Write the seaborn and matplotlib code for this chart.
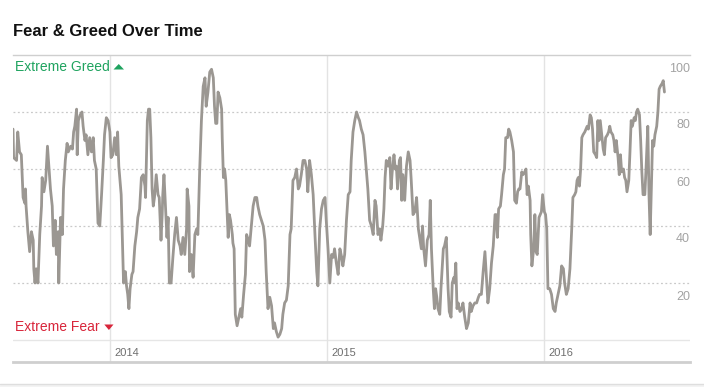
import numpy as np
import pandas as pd
import matplotlib
matplotlib.use("Agg")
import matplotlib.pyplot as plt
import matplotlib.transforms as mtransforms
from matplotlib.patches import Polygon, Rectangle
import seaborn as sns

# ---------------- data ----------------
START = "2013-07-22"
day_offset = [
    0, 1, 6, 8, 11, 14, 17, 20, 21, 22,
    25, 28, 31, 34, 35, 37, 39, 42, 45, 48,
    49, 52, 55, 58, 61, 63, 66, 68, 71, 73,
    76, 77, 80, 83, 85, 88, 91, 93, 97, 100,
    102, 104, 107, 108, 110, 113, 116, 118, 121, 123,
    126, 129, 132, 135, 137, 140, 143, 146, 149, 152,
    154, 157, 160, 163, 165, 168, 171, 174, 176, 178,
    180, 182, 184, 186, 189, 191, 193, 195, 197, 200,
    202, 205, 208, 210, 213, 216, 219, 222, 223, 226,
    228,
    230, 232, 234, 236, 238, 241, 244, 246, 249, 251,
    252, 254, 256, 259, 261, 263, 266, 269, 272, 275,
    278, 281, 283, 286, 289, 292, 293, 296, 297, 300,
    303, 306, 309, 311, 314, 317, 320, 323, 325, 328,
    331, 334, 337, 339, 341, 343, 345, 348, 351, 352,
    354, 356, 358, 360, 362, 364, 366, 369, 370, 372,
    374, 377, 380, 383, 385, 388, 391, 393, 396, 398,
    401, 404, 407, 410, 412, 415, 418, 421, 424, 426,
    429, 432, 435, 438, 440, 443, 446, 449, 452, 454,
    457, 460, 463, 466, 468, 471, 474, 477, 480, 482,
    485, 488, 491, 494, 496, 499, 502, 505, 508, 511,
    513, 516, 519, 522, 525, 527, 530, 533, 536, 539,
    541, 544, 547, 550, 553, 555, 558, 561, 564, 567,
    569, 572, 575, 578, 581, 583, 586, 589, 592, 595,
    597, 600, 603, 606, 609, 611, 614, 617, 619, 622,
    624, 626, 628, 631, 634, 636, 638, 641, 643, 645,
    647, 650, 652, 654, 656, 659, 662, 665, 668, 670,
    673, 676, 679, 682,
    687, 689, 691, 694, 697, 700, 702, 704, 707, 709,
    711, 713, 715, 718, 720, 722, 724, 726, 729, 732,
    734, 737, 739, 742, 743, 745, 747, 749, 752, 755,
    757, 760, 763, 766, 769, 771, 774, 777, 780, 783,
    785, 788, 791, 794, 797, 799, 802, 805, 808, 811,
    813, 815, 817, 820, 822, 825, 827, 829, 832, 834,
    836, 839, 842, 844, 847, 849, 851, 853, 856, 858,
    861, 863, 865, 867, 870, 871, 873, 876, 878, 880,
    882, 885, 887, 889, 891, 894, 896, 898, 900, 903,
    906, 909,
    912, 914, 917, 920, 923, 926, 928, 931, 934, 937,
    940, 942, 945, 947, 949, 951, 953, 955, 957, 959,
    962, 964, 966, 968, 971, 973, 975, 977, 980, 982,
    984, 986, 988, 991, 993, 995, 997, 1000, 1002, 1004,
    1006, 1009, 1011, 1013, 1015, 1018, 1020, 1022, 1024, 1027,
    1029, 1031, 1033, 1036, 1038, 1040, 1042, 1045, 1047, 1049,
    1051, 1054, 1056, 1058, 1060, 1063, 1065, 1068, 1070, 1072,
    1074, 1076, 1078, 1080, 1083, 1085, 1087, 1089, 1092, 1094,
    1096,
]
index_value = [
    74, 64, 63, 73, 66, 65, 50, 48, 53, 47,
    38, 31, 38, 35, 25, 20, 25, 20, 37, 47,
    57, 52, 56, 68, 59, 53, 47, 33, 42, 30,
    38, 20, 43, 37, 53, 63, 69, 66, 68, 67,
    73, 75, 81, 65, 77, 79, 80, 75, 70, 72,
    65, 71, 66, 71, 63, 60, 41, 40, 51, 63,
    72, 78, 77, 73, 64, 65, 71, 65, 73, 61,
    56, 51, 35, 20, 24, 19, 16, 11, 18, 23,
    24, 33, 38, 43, 46, 57, 58, 54, 50, 77,
    81,
    81, 71, 53, 47, 50, 58, 51, 50, 35, 44,
    51, 58, 49, 36, 43, 20, 20, 29, 37, 43,
    35, 33, 30, 36, 30, 39, 53, 47, 24, 30,
    22, 37, 39, 37, 59, 77, 89, 92, 82, 87,
    94, 95, 92, 82, 76, 76, 87, 85, 81, 71,
    57, 60, 56, 46, 36, 44, 42, 37, 34, 32,
    9, 5, 8, 11, 8, 16, 23, 37, 35, 33,
    40, 47, 50, 50, 47, 44, 42, 40, 35, 24,
    11, 15, 12, 4, 6, 3, 1, 2, 4, 9,
    13, 14, 19, 37, 39, 56, 57, 60, 53, 54,
    58, 63, 63, 60, 52, 63, 58, 51, 37, 24,
    19, 39, 46, 49, 50, 42, 32, 20, 30, 29,
    32, 27, 23, 32, 29, 26, 30, 42, 51, 52,
    63, 73, 77, 80, 78, 77, 74, 72, 66, 58,
    53, 42, 40, 37, 49, 47, 37, 39, 35, 40,
    46, 57, 63, 61, 64, 53, 59, 65, 60, 61,
    53, 63, 64, 49, 58, 49, 61, 66, 63, 56,
    44, 45, 50, 39,
    32, 40, 32, 26, 35, 37, 49, 32, 18, 11,
    18, 15, 11, 9, 18, 25, 32, 33, 36, 18,
    10, 8, 20, 22, 20, 27, 11, 13, 10, 11,
    13, 8, 4, 6, 13, 10, 12, 13, 13, 15,
    16, 16, 24, 31, 20, 13, 18, 27, 33, 44,
    44, 36, 46, 47, 51, 58, 60, 71, 71, 74,
    73, 70, 66, 49, 48, 52, 53, 53, 59, 58,
    59, 60, 51, 54, 49, 37, 26, 32, 44, 31,
    30, 43, 44, 45, 51, 45, 44, 39, 18, 18,
    16, 11,
    10, 13, 16, 19, 26, 25, 20, 16, 18, 25,
    39, 50, 51, 52, 56, 57, 54, 60, 71, 72,
    73, 74, 75, 74, 79, 78, 74, 66, 65, 64,
    77, 70, 77, 71, 67, 65, 71, 72, 73, 75,
    73, 72, 70, 66, 70, 64, 58, 65, 59, 60,
    57, 56, 52, 56, 66, 77, 75, 78, 77, 80,
    81, 79, 70, 59, 51, 51, 60, 75, 51, 37,
    53, 70, 68, 72, 75, 80, 88, 89, 90, 91,
    87,
]
year_ticks = ["2014", "2015", "2016"]
y_ticks = [20, 40, 60, 80, 100]
END_DAYS = 1139

# ---------------- style ----------------
sns.set_style("white")
plt.rcParams["font.family"] = ["Liberation Sans", "DejaVu Sans"]

W, H = 704, 387
fig = plt.figure(figsize=(W / 100, H / 100), dpi=100)
fig.patch.set_facecolor("white")

def fx(px):
    return px / W

def fy(py):
    return 1 - py / H

ax_left, ax_right, ax_top, ax_bot = 13, 690, 55, 362
ax = fig.add_axes([fx(ax_left), fy(ax_bot), (ax_right - ax_left) / W, (ax_bot - ax_top) / H])
ax.set_facecolor("white")

df = pd.DataFrame({
    "date": pd.Timestamp(START) + pd.to_timedelta(day_offset, unit="D"),
    "value": index_value,
})

start = pd.Timestamp(START)
ax.set_xlim(start, start + pd.Timedelta(days=END_DAYS))
y_bottom = -22 / 2.85
ax.set_ylim(y_bottom, 100)

# grid lines
for v in y_ticks[:-1]:
    ax.axhline(v, color="#c9c9c9", lw=0.9, ls=(0, (1.5, 2.0)), zorder=1)
ax.axhline(0, color="#e6e6e6", lw=1.0, zorder=1)

for yr in year_ticks:
    ax.axvline(pd.Timestamp(f"{yr}-01-01"), color="#e3e3e3", lw=1.0, zorder=1)

sns.lineplot(data=df, x="date", y="value", ax=ax, color="#9b9792", lw=2.0,
             zorder=3, estimator=None)

# spines
for s in ["left", "right"]:
    ax.spines[s].set_visible(False)
ax.spines["top"].set_color("#cfcfcf")
ax.spines["top"].set_linewidth(1.0)
ax.spines["bottom"].set_color("#cfcfcf")
ax.spines["bottom"].set_linewidth(2.0)
ax.set_xticks([])
ax.set_yticks([])
ax.set_xlabel("")
ax.set_ylabel("")

# right-side value labels (below gridlines)
trans_r = mtransforms.blended_transform_factory(ax.transAxes, ax.transData)
trans_r = mtransforms.offset_copy(trans_r, fig=fig, x=0, y=-13.5, units="dots")
for v in y_ticks:
    ax.text(1.0, v, str(v), transform=trans_r, ha="right", va="center",
            fontsize=9, color="#a3a3a3")

# year labels
trans_y = mtransforms.offset_copy(ax.transData, fig=fig, x=5, y=0, units="dots")
for yr in year_ticks:
    ax.text(pd.Timestamp(f"{yr}-01-01"), -4.45, yr, transform=trans_y,
            ha="left", va="center", fontsize=8, color="#6e6e6e")

# title
fig.text(fx(13), fy(32), "Fear & Greed Over Time", fontsize=12, fontweight="bold",
         color="#111111", ha="left", va="center")

green = "#1fa35f"
red = "#d8253a"
fig.text(fx(15), fy(67), "Extreme Greed", fontsize=10, color=green, ha="left", va="center")
fig.text(fx(15), fy(327), "Extreme Fear", fontsize=10, color=red, ha="left", va="center")

tri_up = Polygon([[fx(113.5), fy(69.5)], [fx(124), fy(69.5)], [fx(118.75), fy(64.0)]],
                 closed=True, transform=fig.transFigure, color=green, lw=0)
tri_dn = Polygon([[fx(104.3), fy(324.5)], [fx(113.5), fy(324.5)], [fx(108.9), fy(330.0)]],
                 closed=True, transform=fig.transFigure, color=red, lw=0)
fig.add_artist(tri_up)
fig.add_artist(tri_dn)

# bottom page band
band = Rectangle((0, 0), 1, fy(383.5), transform=fig.transFigure, color="#f3f3f3", lw=0)
fig.add_artist(band)
fig.add_artist(plt.Line2D([0, 1], [fy(383.5), fy(383.5)], transform=fig.transFigure,
                          color="#dedede", lw=1.0))

fig.savefig("out.png", dpi=100, facecolor="white")
